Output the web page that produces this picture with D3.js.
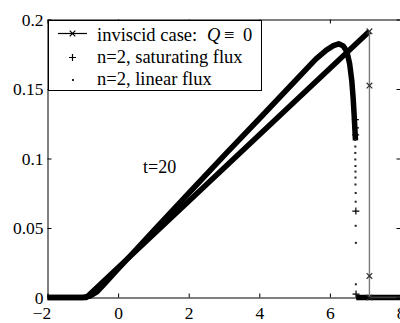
<!DOCTYPE html>
<html>
<head>
<meta charset="utf-8">
<script src="https://cdn.jsdelivr.net/npm/d3@7"></script>
<style>
  html, body { margin: 0; padding: 0; background: #fff; }
  svg { display: block; }
  text { font-family: "Liberation Serif", "Times New Roman", serif; fill: #000; }
</style>
</head>
<body>
<svg id="chart" width="400" height="323"></svg>
<script>
// ---------- data ----------
const xTicks = [-2, 0, 2, 4, 6, 8];
const xTickLabels = ["\u22122", "0", "2", "4", "6", "8"];
const yTicks = [0, 0.05, 0.1, 0.15, 0.2];
const yTickLabels = ["0", "0.05", "0.1", "0.15", "0.2"];

// inviscid case: Q = 0 (dense ramp, then shock with sparse markers)
const inviscidX = [-2, -0.9, 7.12];
const inviscidY = [0, 0, 0.1915];
const shockX = [7.12, 7.12, 7.12, 7.12, 8];
const shockY = [0.1915, 0.1525, 0.0155, 0, 0];

// n=2 profile (saturating and linear flux overlap on the dense part)
const viscousX = [-2, -1.0, -0.8, -0.6, -0.4, -0.2, 0, 1, 2, 3, 4, 5, 5.6, 5.9, 6.1, 6.25, 6.38, 6.48, 6.56, 6.62, 6.66, 6.69, 6.71, 6.725];
const viscousY = [0, 0, 0.001, 0.004, 0.0095, 0.015, 0.0205, 0.048, 0.075, 0.102, 0.1286, 0.1554, 0.1715, 0.178, 0.1812, 0.1825, 0.181, 0.177, 0.168, 0.156, 0.143, 0.130, 0.120, 0.113];
const viscousTailX = [6.745, 8];
const viscousTailY = [0, 0];

// n=2, saturating flux: sparse points at the front
const saturatingX = [6.72, 6.725, 6.73, 6.735, 6.74];
const saturatingY = [0.128, 0.122, 0.117, 0.0622, 0.0025];

// n=2, linear flux: sparse points at the front
const linearX = [6.72, 6.72, 6.72, 6.72, 6.725, 6.725, 6.725, 6.725, 6.73, 6.73, 6.73, 6.735, 6.735];
const linearY = [0.1133, 0.1086, 0.1040, 0.0993, 0.0946, 0.0906, 0.0863, 0.0813, 0.0752, 0.0689, 0.0516, 0.0393, 0.0095];

const legendLabels = ["inviscid case:", "n=2, saturating flux", "n=2, linear flux"];
const annotation = "t=20";

// ---------- layout ----------
const svg = d3.select("#chart");
const mLeft = 47.5, mRight = 400.5, mTop = 19.5, mBottom = 297.5;
const x = d3.scaleLinear().domain([-2, 8]).range([mLeft, mRight]);
const y = d3.scaleLinear().domain([0, 0.2]).range([mBottom, mTop]);
const serif = '"Liberation Serif", "Times New Roman", serif';
const tickFont = 17.5;
const legendFont = 18.5;

const zip = (xs, ys) => xs.map((v, i) => [v, ys[i]]);
const line = d3.line().x(d => x(d[0])).y(d => y(d[1]));

const plot = svg.append("g");

// dense n=2 band
plot.append("path").datum(zip(viscousX, viscousY))
  .attr("d", line).attr("fill", "none").attr("stroke", "#000")
  .attr("stroke-width", 5.5).attr("stroke-linejoin", "round").attr("stroke-linecap", "butt");
plot.append("path").datum(zip(viscousTailX, viscousTailY))
  .attr("d", line).attr("fill", "none").attr("stroke", "#000").attr("stroke-width", 5.5);

// inviscid dense ramp
plot.append("path").datum(zip(inviscidX, inviscidY))
  .attr("d", line).attr("fill", "none").attr("stroke", "#000")
  .attr("stroke-width", 5.5).attr("stroke-linejoin", "round");
// shock (thin line)
plot.append("path").datum(zip(shockX, shockY))
  .attr("d", line).attr("fill", "none").attr("stroke", "#7a7a7a").attr("stroke-width", 1.4);

// markers
function xMark(g, cx, cy, s, color) {
  g.append("path").attr("d", `M${cx - s},${cy - s}L${cx + s},${cy + s}M${cx - s},${cy + s}L${cx + s},${cy - s}`)
    .attr("stroke", color).attr("stroke-width", 1.2).attr("fill", "none");
}
function plusMark(g, cx, cy, s, color) {
  g.append("path").attr("d", `M${cx - s},${cy}L${cx + s},${cy}M${cx},${cy - s}L${cx},${cy + s}`)
    .attr("stroke", color).attr("stroke-width", 1.2).attr("fill", "none");
}
function dotMark(g, cx, cy) {
  g.append("rect").attr("x", cx - 1).attr("y", cy - 1).attr("width", 2).attr("height", 2).attr("fill", "#222");
}
shockX.forEach((v, i) => { if (v < 8) xMark(plot, x(v), y(shockY[i]), 2.8, "#333"); });
saturatingX.forEach((v, i) => plusMark(plot, x(v), y(saturatingY[i]), 3.5, "#000"));
linearX.forEach((v, i) => dotMark(plot, x(v), y(linearY[i])));

// ---------- axes ----------
const axB = d3.axisBottom(x).tickValues(xTicks).tickSizeInner(-4).tickSizeOuter(0).tickPadding(9)
  .tickFormat((d, i) => xTickLabels[i]);
const axT = d3.axisTop(x).tickValues(xTicks).tickSizeInner(-4).tickSizeOuter(0).tickFormat("");
const axL = d3.axisLeft(y).tickValues(yTicks).tickSizeInner(-4).tickSizeOuter(0).tickPadding(4)
  .tickFormat((d, i) => yTickLabels[i]);
const axR = d3.axisRight(y).tickValues(yTicks).tickSizeInner(-4).tickSizeOuter(0).tickFormat("");

function styleAxis(g) {
  g.attr("font-family", serif).attr("font-size", tickFont);
  g.selectAll("path.domain").attr("stroke", "#000").attr("stroke-width", 1);
  g.selectAll(".tick line").attr("stroke", "#000").attr("stroke-width", 1);
  g.selectAll(".tick text").style("font-family", serif).style("font-size", tickFont + "px").attr("fill", "#000");
}
const gB = svg.append("g").attr("transform", `translate(0,${mBottom})`).call(axB).call(styleAxis);
gB.selectAll(".tick text").attr("dx", d => d < 0 ? -6 : 0);
svg.append("g").attr("transform", `translate(0,${mTop})`).call(axT).call(styleAxis);
svg.append("g").attr("transform", `translate(${mLeft},0)`).call(axL).call(styleAxis);
svg.append("g").attr("transform", `translate(${mRight},0)`).call(axR).call(styleAxis);

// ---------- legend ----------
const lg = svg.append("g");
lg.append("rect").attr("x", 48.5).attr("y", 20.5).attr("width", 213).attr("height", 70)
  .attr("fill", "#fff").attr("stroke", "#000").attr("stroke-width", 1);
const rowY = [33.5, 57.5, 80];
const baseY = [41, 63, 85];
lg.append("line").attr("x1", 58).attr("x2", 87).attr("y1", rowY[0]).attr("y2", rowY[0])
  .attr("stroke", "#000").attr("stroke-width", 1.2);
xMark(lg, 72.5, rowY[0], 2.8, "#000");
plusMark(lg, 72.5, rowY[1], 3.5, "#000");
dotMark(lg, 73, rowY[2]);
legendLabels.forEach((t, i) => {
  lg.append("text").attr("x", 97).attr("y", baseY[i]).style("font-size", legendFont + "px").text(t);
});
const eq = lg.append("text").attr("y", baseY[0]).style("font-size", legendFont + "px");
eq.append("tspan").attr("x", 207).style("font-style", "italic").text("Q");
eq.append("tspan").attr("x", 224).text("\u2261");
eq.append("tspan").attr("x", 243).text("0");

// annotation
svg.append("text").attr("x", 143).attr("y", 173).style("font-size", "18px").text(annotation);
</script>
</body>
</html>
